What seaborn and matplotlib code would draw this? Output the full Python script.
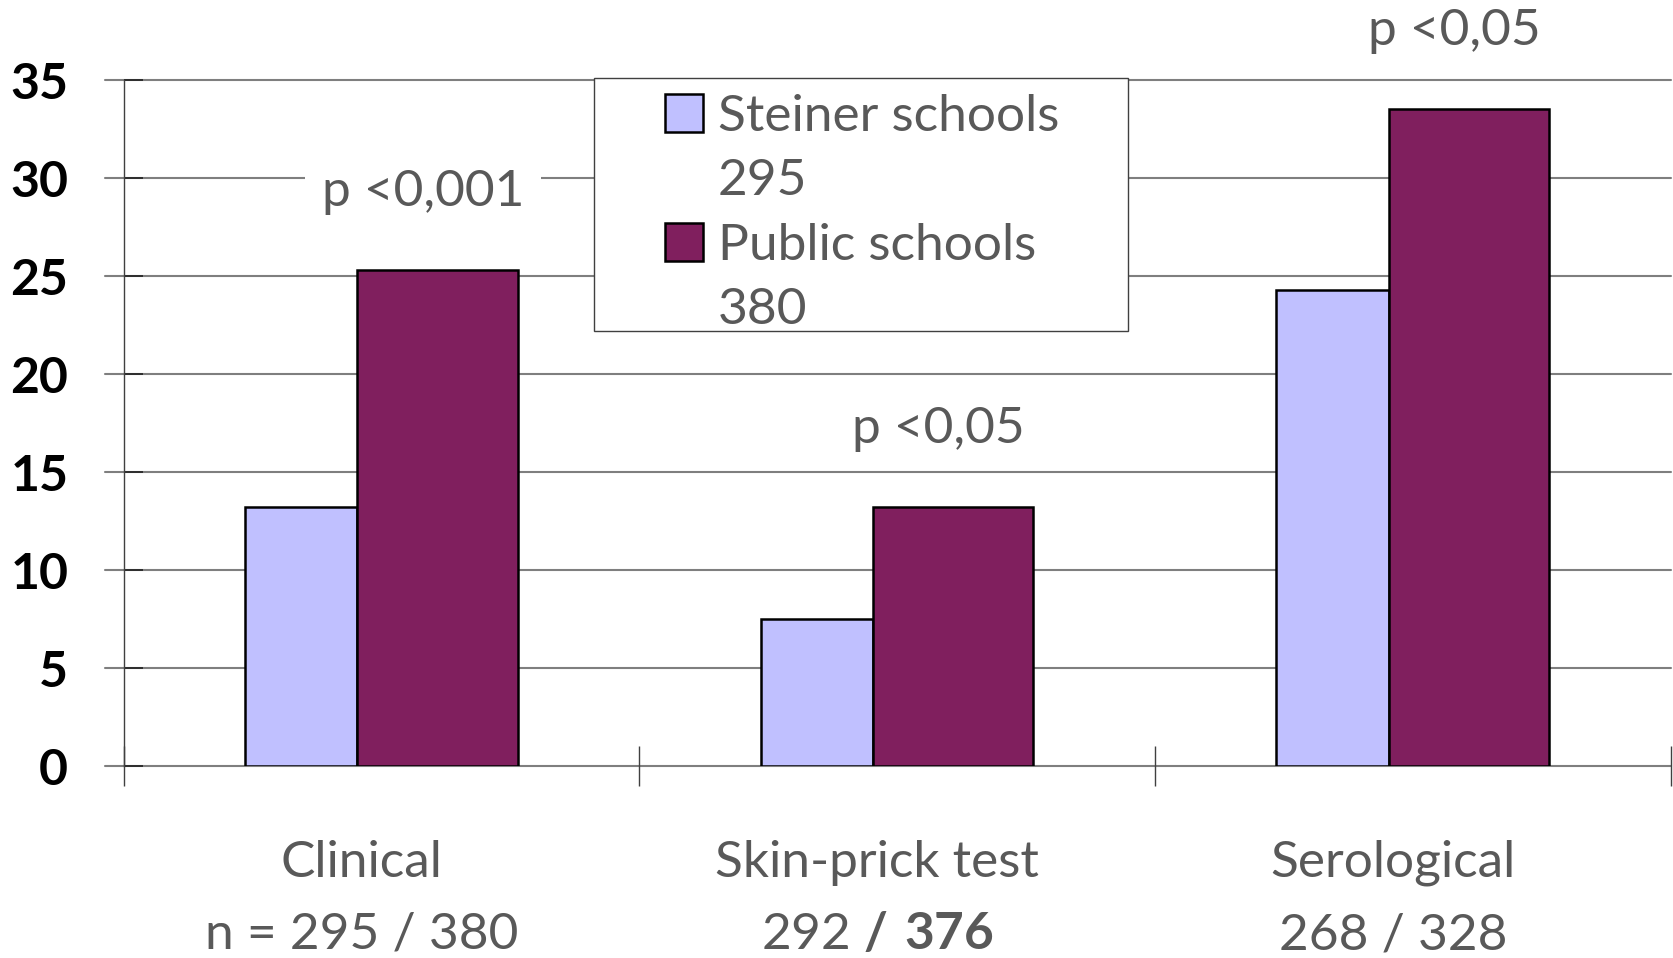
import numpy as np
import pandas as pd
import seaborn as sns
import matplotlib.pyplot as plt
import matplotlib.transforms as mtransforms
from matplotlib.patches import Patch, Rectangle
from matplotlib.ticker import FixedLocator

# data
categories = ["Clinical", "Skin-prick test", "Serological"]
n_labels = ["n = 295 / 380", "292 $\\mathbf{/\\ 376}$", "268 / 328"]
groups = ["Steiner schools", "Public schools"]
group_n = ["295", "380"]
steiner = [13.2, 7.5, 24.3]
public = [25.3, 13.2, 33.5]
p_labels = ["p <0,001", "p <0,05", "p <0,05"]

light = "#C0C0FF"
purple = "#801F5E"
grey_txt = "#595959"

sns.set_style("white")
plt.rcParams["font.family"] = ["Lato", "DejaVu Sans"]
plt.rcParams["mathtext.fontset"] = "custom"
plt.rcParams["mathtext.rm"] = "Lato"
plt.rcParams["mathtext.bf"] = "Lato:bold"

df = pd.DataFrame({
    "test": categories * 2,
    "school": [groups[0]] * 3 + [groups[1]] * 3,
    "value": steiner + public,
})

fig = plt.figure(figsize=(16.73, 9.58), dpi=100)
ax = fig.add_axes([0.074, 0.2004, 0.9247, 0.7160])

sns.barplot(data=df, x="test", y="value", hue="school", palette=[light, purple],
            saturation=1, width=0.53, edgecolor="black", linewidth=1.8,
            legend=False, errorbar=None, ax=ax, zorder=2)

# Steiner bars are narrower than public-school bars in the original
for p in ax.patches:
    c = round(p.get_x() + p.get_width() / 2)
    left = p.get_x() + p.get_width() / 2 < c
    if left:
        p.set_width(0.218)
    else:
        p.set_x(p.get_x() - 0.047)
        p.set_width(p.get_width() + 0.046)

ax.set_xlim(-0.5, 2.5)
ax.set_ylim(0, 35)
ax.set_yticks(np.arange(0, 36, 5))
ax.set_xlabel("")
ax.set_ylabel("")

# gridlines, slightly extended left of the axis
for yv in np.arange(0, 36, 5):
    ax.axhline(yv, xmin=-0.0124, xmax=1, color="#7f7f7f", lw=1.5,
               clip_on=False, zorder=0.5)

for s in ["top", "right", "bottom"]:
    ax.spines[s].set_visible(False)
ax.spines["left"].set_color("#404040")
ax.spines["left"].set_linewidth(1.0)

ax.tick_params(axis="y", direction="in", length=14, width=1.2, color="#202020",
               pad=40, labelsize=36, labelcolor="black", left=True)
for t in ax.get_yticklabels():
    t.set_fontweight("bold")

ax.set_xticks(range(3))
ax.set_xticklabels([f"{c}\n{n}" for c, n in zip(categories, n_labels)],
                   color=grey_txt, fontsize=37, linespacing=1.7)
ax.tick_params(axis="x", length=0, pad=53)
shift = mtransforms.ScaledTranslation(-20 / 100, 0, fig.dpi_scale_trans)
for t in ax.get_xticklabels():
    t.set_transform(t.get_transform() + shift)
ax.xaxis.set_minor_locator(FixedLocator([-0.5, 0.5, 1.5, 2.5]))
ax.tick_params(axis="x", which="minor", direction="inout", length=29, width=1.0,
               color="#404040", bottom=True)

# p-value annotations above the public-school bars
for i, (pl, h) in enumerate(zip(p_labels, public)):
    ax.text(i + 0.08, h + 4.0, pl, ha="center", va="center", fontsize=37,
            color=grey_txt, zorder=3, clip_on=False,
            bbox=dict(facecolor="white", edgecolor="none", pad=12))

# legend box
ax.add_patch(Rectangle((0.304, 0.6345), 0.345, 0.3685, transform=ax.transAxes,
                       facecolor="white", edgecolor="#404040", lw=1.0,
                       zorder=3, clip_on=False))
blank = Patch(facecolor="none", edgecolor="none")
handles = [Patch(facecolor=light, edgecolor="black", lw=1.8), blank,
           Patch(facecolor=purple, edgecolor="black", lw=1.8), blank]
labels = [groups[0], group_n[0], groups[1], group_n[1]]
leg = ax.legend(handles, labels, loc="upper left", bbox_to_anchor=(0.3497, 0.98),
                frameon=False, fontsize=37, borderpad=0, borderaxespad=0,
                handlelength=0.75, handleheight=0.75, handletextpad=0.28,
                labelspacing=0.36, labelcolor=grey_txt)
leg.set_zorder(4)

fig.savefig("out.png", dpi=100)
